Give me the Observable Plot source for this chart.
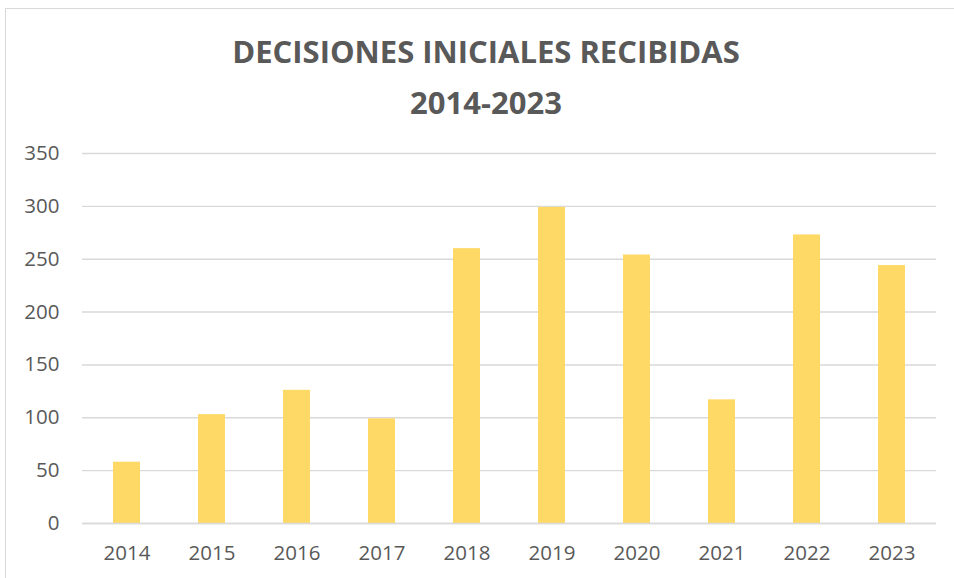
<!DOCTYPE html>
<html>
<head>
<meta charset="utf-8">
<script src="https://cdn.jsdelivr.net/npm/d3@7"></script>
<script src="https://cdn.jsdelivr.net/npm/@observablehq/plot@0.6"></script>
<style>
  html, body { margin: 0; padding: 0; background: #fff; }
  #wrap { position: relative; width: 954px; height: 578px; overflow: hidden; background: #fff; }
  #frame { position: absolute; left: 5px; top: 8px; width: 1200px; height: 1000px; border-left: 1.5px solid #d9d9d9; border-top: 1.5px solid #d9d9d9; box-sizing: border-box; }
  #title { position: absolute; left: 0; top: 26px; width: 972px; text-align: center; font-family: "Open Sans", sans-serif; font-weight: 700; font-size: 31px; line-height: 51px; color: #595959; }
  #chart { position: absolute; left: 0; top: 130px; }
</style>
</head>
<body>
<div id="wrap">
  <div id="frame"></div>
  <div id="title">DECISIONES INICIALES RECIBIDAS<br>2014-2023</div>
  <div id="chart"></div>
</div>
<script>
const years = ["2014","2015","2016","2017","2018","2019","2020","2021","2022","2023"];
const values = [58, 103, 126, 99, 260, 299, 254, 117, 273, 244];
const yTicks = [0, 50, 100, 150, 200, 250, 300, 350];

const data = years.map((y, i) => ({year: y, value: values[i]}));

const chart = Plot.plot({
  width: 954,
  height: 448,
  marginTop: 23,
  marginBottom: 55,
  marginLeft: 82,
  marginRight: 18,
  style: {fontFamily: "'Open Sans', sans-serif", fontSize: "20px", color: "#595959", background: "transparent"},
  x: {domain: years, padding: 0, label: null},
  y: {domain: [0, 350], ticks: yTicks, label: null},
  marks: [
    Plot.gridY(yTicks, {stroke: "#d9d9d9", strokeOpacity: 1, strokeWidth: 1.4}),
    Plot.barY(data, {x: "year", y: "value", fill: "#FFD966", insetLeft: 29, insetRight: 29}),
    Plot.ruleY([0], {stroke: "#d9d9d9", strokeWidth: 1.4}),
    Plot.axisY(yTicks, {tickSize: 0, tickPadding: 23, fill: "#595959", fontSize: 20.5, label: null}),
    Plot.axisX({tickSize: 0, tickPadding: 22, fill: "#595959", fontSize: 20.5, label: null})
  ]
});
document.getElementById("chart").appendChild(chart);
</script>
</body>
</html>
